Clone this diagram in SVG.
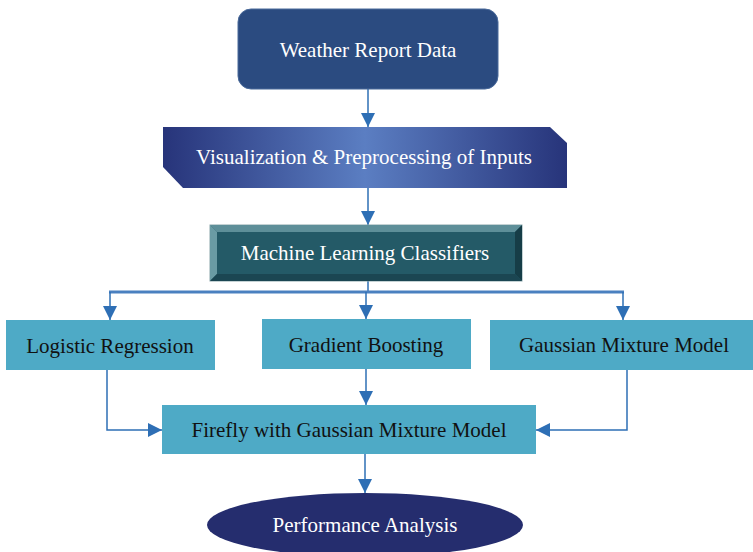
<svg xmlns="http://www.w3.org/2000/svg" width="753" height="552" viewBox="0 0 753 552">
<defs>
<style>
text{font-family:"Liberation Serif","Times New Roman",serif;font-size:21px;text-anchor:middle}
.w{fill:#ffffff}
.k{fill:#111111}
.lb{fill:#4eaac6}
.c{stroke:#2e6fb5;stroke-width:1.5;fill:none}
</style>
<linearGradient id="vg" x1="0" y1="0" x2="1" y2="0">
<stop offset="0" stop-color="#27347a"/>
<stop offset="0.5" stop-color="#5b7ec2"/>
<stop offset="1" stop-color="#27347a"/>
</linearGradient>
<marker id="ah" markerUnits="userSpaceOnUse" markerWidth="16" markerHeight="16" refX="14" refY="7" orient="auto">
<path d="M0,0 L14,7 L0,14 z" fill="#2e6fb5"/>
</marker>
</defs>
<g id="connectors">
<line class="c" x1="368" y1="89" x2="368" y2="127" marker-end="url(#ah)"/>
<line class="c" x1="368" y1="188" x2="368" y2="225" marker-end="url(#ah)"/>
<line class="c" x1="368" y1="281" x2="368" y2="292"/>
<line x1="109" y1="292" x2="624" y2="292" stroke="#4a80c0" stroke-width="3"/>
<line class="c" x1="110" y1="292" x2="110" y2="320" marker-end="url(#ah)"/>
<line class="c" x1="366" y1="292" x2="366" y2="319" marker-end="url(#ah)"/>
<line class="c" x1="623" y1="292" x2="623" y2="320" marker-end="url(#ah)"/>
<polyline class="c" points="107,370 107,430 162,430" marker-end="url(#ah)"/>
<line class="c" x1="366" y1="369" x2="366" y2="405" marker-end="url(#ah)"/>
<polyline class="c" points="627,370 627,430 536,430" marker-end="url(#ah)"/>
<line class="c" x1="365" y1="454" x2="365" y2="493" marker-end="url(#ah)"/>
</g>
<g id="weather">
<rect x="238" y="9" width="260" height="80" rx="13" fill="#2b4b80" stroke="#4a6a9a" stroke-width="1"/>
<text class="w" x="368" y="57">Weather Report Data</text>
</g>
<g id="visualization">
<path d="M163,127 L550,127 L567,143 L567,188 L183,188 L163,167 z" fill="url(#vg)"/>
<text class="w" x="364" y="164">Visualization &amp; Preprocessing of Inputs</text>
</g>
<g id="classifiers">
<rect x="210" y="225" width="312" height="56" fill="#245a67" stroke="#8aa5aa" stroke-width="1"/>
<path d="M210,225 L522,225 L515,232 L217,232 z" fill="#5e8f99"/>
<path d="M210,225 L217,232 L217,274 L210,281 z" fill="#6a9ba4"/>
<path d="M522,225 L522,281 L515,274 L515,232 z" fill="#163d47"/>
<path d="M210,281 L522,281 L515,274 L217,274 z" fill="#1b4652"/>
<text class="w" x="365" y="260">Machine Learning Classifiers</text>
</g>
<g id="logistic">
<rect class="lb" x="6" y="320" width="209" height="50"/>
<text class="k" x="110" y="353">Logistic Regression</text>
</g>
<g id="gradient">
<rect class="lb" x="262" y="319" width="209" height="50"/>
<text class="k" x="366" y="352">Gradient Boosting</text>
</g>
<g id="gaussian">
<rect class="lb" x="490" y="320" width="263" height="50"/>
<text class="k" x="624" y="352">Gaussian Mixture Model</text>
</g>
<g id="firefly">
<rect class="lb" x="162" y="405" width="374" height="49"/>
<text class="k" x="349" y="437">Firefly with Gaussian Mixture Model</text>
</g>
<g id="performance">
<ellipse cx="365" cy="525" rx="158" ry="32" fill="#252d6e"/>
<text class="w" x="365" y="532">Performance Analysis</text>
</g>
</svg>
